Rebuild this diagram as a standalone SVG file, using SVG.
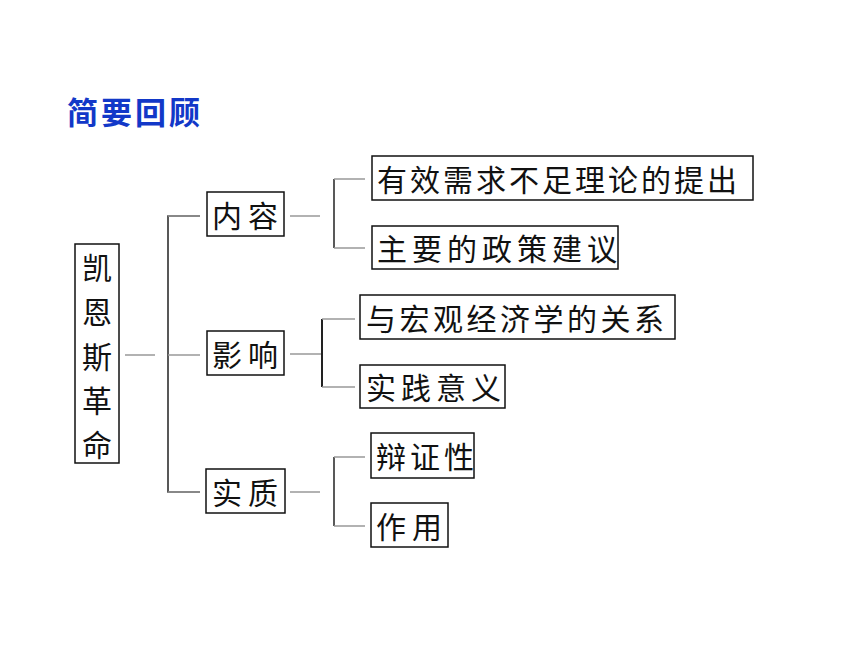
<svg xmlns="http://www.w3.org/2000/svg" width="860" height="645" viewBox="0 0 860 645">
<style>
.box{fill:#fff;stroke:#111;stroke-width:1.5}
.t{font-family:"Noto Sans CJK SC","Noto Sans CJK JP",sans-serif;font-size:30px;fill:#111;dominant-baseline:central;letter-spacing:3px}
.h{fill:none;stroke:#999;stroke-width:1.5}
.v{fill:none;stroke:#222;stroke-width:1.5}
.title{font-family:"Noto Sans CJK SC",sans-serif;font-size:31px;font-weight:bold;fill:#1238c8;dominant-baseline:central;letter-spacing:3px}
</style>
<rect width="860" height="645" fill="#fff"/>
<text class="title" x="67" y="110">简要回顾</text>
<g id="connectors">
<line class="h" x1="125" y1="355" x2="155" y2="355"/>
<path class="v" d="M200,216 H168 V492 H200"/>
<line class="h" x1="168" y1="216" x2="200" y2="216"/>
<line class="h" x1="168" y1="355" x2="200" y2="355"/>
<line class="h" x1="168" y1="492" x2="200" y2="492"/>
<line class="h" x1="290" y1="216" x2="320" y2="216"/>
<path class="v" d="M334,179 V248"/>
<line class="h" x1="334" y1="179" x2="365" y2="179"/>
<line class="h" x1="334" y1="248" x2="365" y2="248"/>
<line class="h" x1="290" y1="354" x2="322" y2="354"/>
<path class="v" d="M322,319 V387" style="stroke-width:2"/>
<line class="h" x1="322" y1="319" x2="355" y2="319"/>
<line class="h" x1="322" y1="387" x2="355" y2="387"/>
<line class="h" x1="290" y1="492" x2="320" y2="492"/>
<path class="v" d="M334,457 V526"/>
<line class="h" x1="334" y1="457" x2="365" y2="457"/>
<line class="h" x1="334" y1="526" x2="365" y2="526"/>
</g>
<g id="root">
<rect class="box" x="75" y="244" width="44" height="219"/>
<text class="t" x="97" y="266" text-anchor="middle" style="font-size:30px;letter-spacing:0">凯</text>
<text class="t" x="97" y="310" text-anchor="middle" style="font-size:30px;letter-spacing:0">恩</text>
<text class="t" x="97" y="355" text-anchor="middle" style="font-size:30px;letter-spacing:0">斯</text>
<text class="t" x="97" y="399" text-anchor="middle" style="font-size:30px;letter-spacing:0">革</text>
<text class="t" x="97" y="443" text-anchor="middle" style="font-size:30px;letter-spacing:0">命</text>
</g>
<g id="neirong">
<rect class="box" x="207" y="192" width="77" height="44"/>
<text class="t" x="212" y="214" style="letter-spacing:6px">内容</text>
</g>
<g id="yingxiang">
<rect class="box" x="207" y="331" width="77" height="44"/>
<text class="t" x="212" y="353" style="letter-spacing:6px">影响</text>
</g>
<g id="shizhi">
<rect class="box" x="206" y="469" width="79" height="44"/>
<text class="t" x="212" y="491" style="letter-spacing:6px">实质</text>
</g>
<g id="n1">
<rect class="box" x="372" y="156" width="381" height="44"/>
<text class="t" x="377" y="178">有效需求不足理论的提出</text>
</g>
<g id="n2">
<rect class="box" x="372" y="226" width="246" height="43"/>
<text class="t" x="377" y="247" style="letter-spacing:5px">主要的政策建议</text>
</g>
<g id="n3">
<rect class="box" x="360" y="295" width="315" height="44"/>
<text class="t" x="366" y="317" style="letter-spacing:3.5px">与宏观经济学的关系</text>
</g>
<g id="n4">
<rect class="box" x="360" y="365" width="145" height="43"/>
<text class="t" x="366" y="386" style="letter-spacing:5px">实践意义</text>
</g>
<g id="n5">
<rect class="box" x="371" y="433" width="103" height="45"/>
<text class="t" x="376" y="455" style="letter-spacing:4px">辩证性</text>
</g>
<g id="n6">
<rect class="box" x="371" y="503" width="77" height="44"/>
<text class="t" x="376" y="525" style="letter-spacing:6px">作用</text>
</g>
</svg>
